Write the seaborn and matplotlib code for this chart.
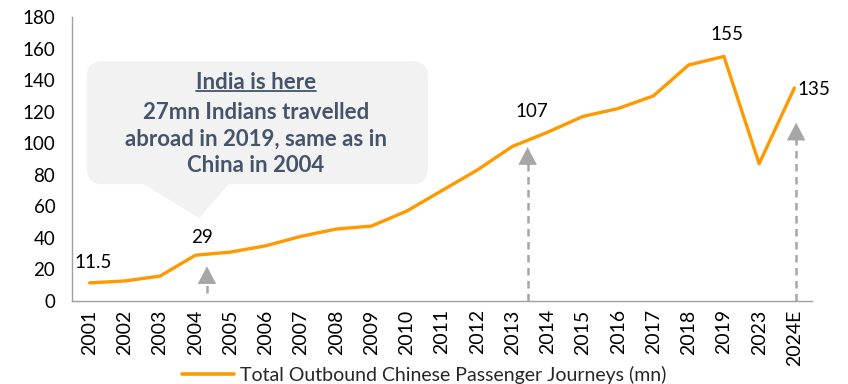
import matplotlib
matplotlib.use("Agg")
import matplotlib.pyplot as plt
import seaborn as sns
import pandas as pd
from matplotlib.patches import FancyBboxPatch, Polygon
from matplotlib.lines import Line2D

# Outbound Chinese passenger journeys (mn)
years = ["2001", "2002", "2003", "2004", "2005", "2006", "2007", "2008", "2009",
         "2010", "2011", "2012", "2013", "2014", "2015", "2016", "2017", "2018",
         "2019", "2023", "2024E"]
journeys = [11.5, 12.7, 15.8, 29, 31, 35, 41, 45.6, 47.5, 57, 70, 83, 98, 107,
            117, 122, 130, 149.6, 155, 87, 135]
labelled_years = ["2001", "2004", "2014", "2019", "2024E"]
series_name = "Total Outbound Chinese Passenger Journeys (mn)"

callout_title = "India is here"
callout_body = "27mn Indians travelled\nabroad in 2019, same as in\nChina in 2004"

sns.set_theme(style="white")
plt.rcParams["font.family"] = ["Lato", "DejaVu Sans"]

ORANGE = "#FF9900"
GREY = "#A6A6A6"
SLATE = "#44546A"

df = pd.DataFrame({"year": years, "journeys": journeys, "pos": range(len(years))})

fig = plt.figure(figsize=(8.48, 3.84), dpi=100)
ax = fig.add_axes([72 / 848, 1 - 301 / 384, (812 - 72) / 848, (301 - 17) / 384])

sns.lineplot(data=df, x="pos", y="journeys", ax=ax, color=ORANGE, lw=2.4,
             label=series_name, sort=False)

ax.set_xlim(-0.5, len(years) - 0.5)
ax.set_ylim(0, 180)
ax.set_yticks(range(0, 181, 20))
ax.set_xticks(range(len(years)))
ax.set_xticklabels(years, rotation=90, fontsize=14, color="#000000")
ax.tick_params(axis="y", labelsize=13.5, colors="#000000", pad=12, length=0)
ax.tick_params(axis="x", pad=6, length=0)
ax.set_xlabel("")
ax.set_ylabel("")
sns.despine(ax=ax)
for side in ("left", "bottom"):
    ax.spines[side].set_color("#A0A0A0")
    ax.spines[side].set_linewidth(1.0)

# value labels: (x shift, label height, alignment)
placement = {"2001": (0.1, 24.7, "center"), "2004": (0.18, 40.5, "center"),
             "2014": (-0.46, 120, "center"), "2019": (0.1, 169, "center"),
             "2024E": (0.1, 134, "left")}
for yr in labelled_years:
    i = years.index(yr)
    dx, ly, ha = placement[yr]
    ax.text(i + dx, ly, f"{journeys[i]:g}", ha=ha, va="center",
            fontsize=13.5, color="#000000")

# dashed grey arrows with solid heads
px_y = 284 / 180
def dashed_arrow(x, y0, y1):
    head = 15 / px_y
    ax.plot([x, x], [y0, y1 - head], color=GREY, lw=1.8, linestyle=(0, (3, 2.2)),
            solid_capstyle="butt", dash_capstyle="butt", zorder=2)
    ax.annotate("", xy=(x, y1), xytext=(x, y1 - head),
                arrowprops=dict(arrowstyle="-|>,head_length=1.05,head_width=0.55",
                                color=GREY, lw=0.1, shrinkA=0, shrinkB=0), zorder=2)

dashed_arrow(3.33, 5, 22)
dashed_arrow(12.43, 0, 97.5)
dashed_arrow(20.05, 0, 113)

# callout box
px_x = 740 / len(years)
aspect = px_x / px_y
box = FancyBboxPatch((-0.08, 74), 9.68, 78,
                     boxstyle="round,pad=0,rounding_size=0.45",
                     mutation_aspect=aspect, fc="#F2F2F2", ec="none", zorder=1)
ax.add_patch(box)
ax.add_patch(Polygon([(1.5, 74.5), (3.95, 74.5), (3.12, 52.5)], closed=True,
                     fc="#F2F2F2", ec="none", zorder=1))

cx = 4.72
t_title = ax.text(cx, 138.5, callout_title, ha="center", va="center", fontsize=16,
                  fontweight="bold", color=SLATE, zorder=3)
ax.text(cx, 102.5, callout_body, ha="center", va="center", fontsize=16,
        fontweight="bold", color=SLATE, linespacing=1.33, zorder=3)

# legend below the chart
leg = ax.legend(loc="lower center", bbox_to_anchor=(0.5, -0.045), bbox_transform=fig.transFigure,
                frameon=False, fontsize=14, handlelength=2.7, handletextpad=0.3)
for line in leg.get_lines():
    line.set_linewidth(2.6)

# underline the callout title
fig.canvas.draw()
bb = t_title.get_window_extent()
inv = fig.transFigure.inverted()
(x0, y0), (x1, _) = inv.transform([(bb.x0, bb.y0 + 1.5), (bb.x1, bb.y0 + 1.5)])
fig.add_artist(Line2D([x0, x1], [y0, y0], transform=fig.transFigure,
                      color=SLATE, lw=1.3))

fig.savefig("out.png", dpi=100)
